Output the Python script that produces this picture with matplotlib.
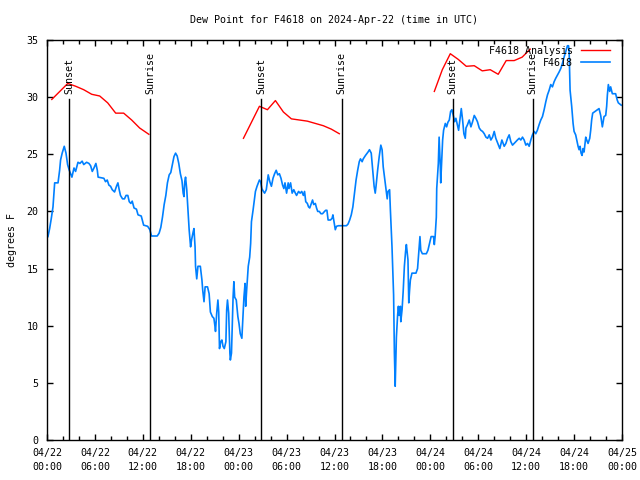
import datetime as dt
import matplotlib
matplotlib.use("Agg")
import matplotlib.pyplot as plt
import matplotlib.dates as mdates

plt.rcParams['font.family'] = ['DejaVu Sans Mono']
FS = 7.2

start = dt.datetime(2024, 4, 22, 0, 0)

# Observed dew point (hours since 04/22 00:00 UTC, degrees F)
obs_hours = [0.12, 0.33, 0.54, 0.75, 0.96, 1.38, 1.58, 1.7, 1.9, 2.16, 2.38, 2.58, 2.79, 3.12, 3.38, 3.58, 3.88,
             4.12, 4.4, 4.6, 4.96, 5.25, 5.46, 5.67, 5.88, 6.12, 6.3, 6.4, 7.12, 7.33, 7.54, 7.75, 7.96, 8.17,
             8.46, 8.7, 8.88, 9.04, 9.2, 9.46, 9.7, 9.9, 10.12, 10.3, 10.5, 10.67, 10.9, 11.2, 11.4, 11.8, 12.1,
             12.6, 12.88, 13.08, 13.8, 14.04, 14.25, 14.46, 14.67, 14.88, 15.08, 15.3, 15.5, 15.7, 15.9, 16.1,
             16.3, 16.5, 16.7, 16.9, 17.05, 17.15, 17.25, 17.35, 17.5, 17.65, 17.8, 17.9, 17.98, 18.1, 18.3,
             18.4, 18.54, 18.6, 18.75, 18.9, 19.2, 19.4, 19.5, 19.66, 19.8, 20.1, 20.3, 20.46, 20.7, 20.9,
             21.04, 21.1, 21.25, 21.4, 21.5, 21.6, 21.75, 21.9, 22.04, 22.2, 22.4, 22.5, 22.6, 22.75, 22.9,
             22.96, 23.1, 23.2, 23.3, 23.4, 23.5, 23.7, 23.9, 24.04, 24.2, 24.4, 24.54, 24.66, 24.8, 24.88,
             25.0, 25.1, 25.2, 25.38, 25.5, 25.6, 25.8, 25.96, 26.1, 26.3, 26.46, 26.6, 26.75, 26.9, 27.1,
             27.25, 27.46, 27.7, 27.9, 28.1, 28.3, 28.5, 28.7, 28.9, 29.1, 29.3, 29.5, 29.66, 29.8, 30.0,
             30.2, 30.3, 30.5, 30.7, 30.9, 31.1, 31.25, 31.5, 31.7, 31.9, 32.1, 32.25, 32.4, 32.6, 32.75,
             32.9, 33.1, 33.25, 33.4, 33.6, 33.75, 33.9, 34.1, 34.3, 34.5, 34.75, 34.9, 35.05, 35.2, 35.5,
             35.7, 35.8, 36.0, 36.1, 36.25, 36.5, 37.5, 37.7, 37.9, 38.1, 38.3, 38.5, 38.7, 38.9, 39.1,
             39.25, 39.46, 39.6, 39.88, 40.2, 40.38, 40.6, 40.8, 40.96, 41.1, 41.2, 41.4, 41.6, 41.8, 41.96,
             42.1, 42.3, 42.5, 42.6, 42.7, 42.9, 43.0, 43.2, 43.4, 43.5, 43.6, 43.66, 43.75, 43.9, 44.0,
             44.1, 44.25, 44.3, 44.46, 44.6, 44.75, 44.9, 45.0, 45.2, 45.3, 45.4, 45.5, 45.7, 46.2, 46.4,
             46.5, 46.7, 46.8, 47.0, 47.5, 47.7, 47.9, 48.1, 48.4, 48.5, 48.6, 48.75, 48.8, 49.0, 49.04,
             49.1, 49.25, 49.3, 49.46, 49.54, 49.66, 49.875, 50.04, 50.2, 50.375, 50.54, 50.7, 50.875,
             51.04, 51.2, 51.375, 51.54, 51.7, 51.875, 52.04, 52.2, 52.375, 52.46, 52.66, 52.875, 53.08,
             53.29, 53.5, 53.7, 53.9, 54.125, 54.33, 54.54, 54.75, 54.96, 55.17, 55.375, 55.58, 55.79,
             56.0, 56.2, 56.7, 56.96, 57.25, 57.46, 57.67, 57.875, 58.08, 58.29, 58.5, 58.7, 58.9, 59.125,
             59.33, 59.54, 59.75, 59.96, 60.17, 60.375, 60.58, 60.79, 61.0, 61.2, 61.4, 61.625, 61.83,
             62.04, 62.25, 62.46, 62.67, 62.875, 63.08, 63.29, 63.5, 63.7, 63.9, 64.125, 64.33, 64.54,
             64.75, 64.96, 65.17, 65.3, 65.375, 65.5, 65.7, 65.875, 66.0, 66.2, 66.33, 66.5, 66.625, 66.75,
             66.875, 67.0, 67.125, 67.25, 67.375, 67.46, 67.58, 67.75, 67.96, 68.08, 68.2, 68.33, 68.625,
             68.9, 69.125, 69.33, 69.54, 69.75, 69.96, 70.08, 70.17, 70.29, 70.46, 70.58, 70.79, 71.2,
             71.4, 71.54, 71.9]
obs_values = [17.8, 18.5, 19.4, 20.4, 22.5, 22.5, 23.6, 24.5, 25.1, 25.7, 25.1, 24.1, 23.6, 23.0, 23.8, 23.5, 24.3,
              24.2, 24.4, 24.1, 24.3, 24.2, 24.0, 23.5, 23.8, 24.2, 23.6, 23.0, 22.9, 22.6, 22.75, 22.3, 22.2, 21.9,
              21.7, 22.2, 22.5, 21.9, 21.4, 21.1, 21.1, 21.4, 21.4, 20.85, 20.7, 20.9, 20.3, 20.2, 19.7, 19.6, 18.8,
              18.7, 18.4, 17.85, 17.85, 18.1, 18.6, 19.5, 20.6, 21.4, 22.5, 23.2, 23.4, 24.1, 24.8, 25.1,
              24.85, 24.2, 23.3, 22.7, 21.6, 21.3, 22.6, 23.0, 21.9, 20.1, 18.4, 17.5, 16.9, 17.5, 18.2,
              18.5, 16.9, 15.2, 14.1, 15.2, 15.2, 14.0, 13.1, 12.1, 13.4, 13.4, 12.8, 11.2, 10.8, 10.65,
              9.9, 9.5, 11.1, 12.25, 11.2, 8.0, 8.6, 8.75, 8.2, 8.0, 8.6, 11.4, 12.25, 11.1, 7.6,
              7.0, 7.6, 9.9, 12.5, 13.85, 12.5, 12.25, 10.8, 10.2, 9.3, 8.9, 10.8, 12.5, 13.7, 11.7,
              13.1, 14.1, 15.2, 16.0, 17.2, 19.1, 20.1, 21.0, 21.75, 22.2, 22.5, 22.75, 22.6, 22.0, 21.75,
              21.6, 21.9, 23.2, 22.6, 22.2, 22.9, 23.3, 23.6, 23.2, 23.3, 22.9, 22.3, 22.0, 22.5, 21.6,
              22.5, 22.0, 22.5, 21.6, 21.9, 21.6, 21.4, 21.75, 21.6, 21.75, 21.4, 21.75, 20.85, 20.7, 20.4,
              20.3, 20.7, 21.0, 20.6, 20.7, 20.3, 20.0, 20.0, 19.8, 19.8, 20.0, 20.1, 20.1, 19.25, 19.25,
              19.4, 19.7, 18.8, 18.4, 18.7, 18.75, 18.75, 18.9, 19.25, 19.7, 20.4, 21.6, 22.75, 23.6, 24.35,
              24.6, 24.35, 24.6, 24.9, 25.2, 25.4, 25.1, 23.5, 22.2, 21.6, 22.2, 23.6, 24.8, 25.8, 25.4,
              23.9, 22.75, 21.6, 21.1, 21.75, 21.9, 20.1, 16.9, 12.7, 7.6, 4.7, 6.4, 9.0, 10.9, 11.7,
              10.9, 11.7, 10.35, 11.4, 13.0, 15.2, 16.5, 17.1, 15.75, 12.0, 13.1, 14.0, 14.6, 14.6, 15.0,
              15.9, 17.8, 16.6, 16.3, 16.3, 16.6, 17.2, 17.8, 17.8, 17.1, 17.8, 19.5, 22.0, 24.2, 25.1,
              26.5, 23.9, 22.5, 25.1, 26.25, 27.1, 27.7, 27.4, 27.8, 28.0, 28.75, 28.9, 28.4,
              27.85, 28.15, 27.6, 27.1, 28.0, 29.0, 28.0, 26.8, 26.4, 27.3, 27.6, 28.0, 27.4,
              27.85, 28.4, 28.15, 27.85, 27.3, 27.1, 27.0, 26.8, 26.5, 26.4, 26.7, 26.25, 26.5,
              27.0, 26.4, 25.5, 26.25, 25.7, 25.95, 26.4, 26.7, 26.1, 25.8, 25.95, 26.1, 26.25, 26.4,
              26.25, 26.5, 26.25, 25.8, 25.95, 25.7, 26.25, 26.7, 27.0, 26.8, 27.1, 27.6, 28.0,
              28.3, 28.9, 29.6, 30.2, 30.6, 31.1, 30.9, 31.35, 31.65, 31.9, 32.2, 32.5, 32.95,
              33.5, 34.0, 34.5, 34.5, 34.1, 30.6, 29.2, 27.7, 27.0, 26.7, 26.25, 25.7, 25.4, 25.7,
              25.1, 24.9, 25.5, 25.2, 25.95, 26.5, 26.25, 25.95, 26.4, 27.1, 28.0, 28.6, 28.75,
              28.9, 29.0, 28.4, 27.4, 28.3, 28.4, 29.2, 30.2, 31.1, 30.5, 30.9, 30.3, 30.3,
              29.75, 29.5, 29.3]

# Analysis dew point, three hourly segments
ana1_hours = [0.6, 1.6, 2.6, 3.6, 4.6, 5.6, 6.6, 7.6, 8.6, 9.6, 10.6, 11.6, 12.75]
ana1_values = [29.8, 30.5, 31.2, 30.95, 30.65, 30.25, 30.1, 29.5, 28.6, 28.6, 28.0, 27.3, 26.75]
ana2_hours = [24.6, 25.6, 26.6, 27.6, 28.6, 29.6, 30.6, 31.6, 32.6, 33.6, 34.6, 35.6, 36.6]
ana2_values = [26.4, 27.8, 29.2, 28.9, 29.7, 28.7, 28.1, 28.0, 27.9, 27.7, 27.5, 27.2, 26.8]
ana3_hours = [48.5, 49.5, 50.5, 51.5, 52.5, 53.5, 54.5, 55.5, 56.5, 57.5, 58.5, 59.5, 60.5]
ana3_values = [30.5, 32.4, 33.8, 33.3, 32.7, 32.75, 32.3, 32.4, 32.0, 33.2, 33.2, 33.5, 34.2]

sun_hours = [2.79, 12.92, 26.8, 36.9, 50.8, 60.8]
sun_labels = ["Sunset", "Sunrise", "Sunset", "Sunrise", "Sunset", "Sunrise"]
sun_line_top = 29.8
sun_text_y = 30.3


def to_dt(hours):
    return [start + dt.timedelta(hours=h) for h in hours]


fig = plt.figure(figsize=(6.4, 4.8), dpi=100)
ax = fig.add_axes([47 / 640, 1 - 440 / 480, 575 / 640, 400 / 480])

red = '#ff0000'
blue = '#0080ff'
ax.plot(to_dt(ana1_hours), ana1_values, color=red, lw=1.0, label='F4618 Analysis')
ax.plot(to_dt(ana2_hours), ana2_values, color=red, lw=1.0)
ax.plot(to_dt(ana3_hours), ana3_values, color=red, lw=1.0)
ax.plot(to_dt(obs_hours), obs_values, color=blue, lw=1.2, label='F4618')

for h, lab in zip(sun_hours, sun_labels):
    t = to_dt([h])[0]
    ax.plot([t, t], [0, sun_line_top], color='black', lw=1.0)
    ax.text(t, sun_text_y, lab, rotation=90, ha='center', va='bottom', fontsize=FS)

ax.set_xlim(start, start + dt.timedelta(hours=72))
ax.set_ylim(0, 35)
ax.set_yticks(range(0, 36, 5))
ax.xaxis.set_major_locator(mdates.HourLocator(byhour=range(0, 24, 6)))
ax.xaxis.set_minor_locator(mdates.HourLocator(byhour=range(0, 24, 2)))
ax.xaxis.set_major_formatter(mdates.DateFormatter('%m/%d\n%H:%M'))
ax.tick_params(axis='both', which='both', direction='in', top=True, right=True,
               labelsize=FS, width=1.0)
ax.tick_params(axis='both', which='major', length=4, pad=6)
ax.tick_params(axis='x', which='minor', length=3)
for lab in ax.get_xticklabels():
    lab.set_linespacing(1.5)
for s in ax.spines.values():
    s.set_linewidth(1.0)

ax.set_ylabel('degrees F', fontsize=FS, labelpad=7)
ax.set_title('Dew Point for F4618 on 2024-Apr-22 (time in UTC)', fontsize=FS, pad=12)

ax.legend(loc='upper right', bbox_to_anchor=(0.979, 0.985), markerfirst=False,
          frameon=False, fontsize=FS, handlelength=2.9, handletextpad=0.8,
          borderaxespad=0.0, borderpad=0.0, labelspacing=0.2)

fig.savefig('out.png', dpi=100)
